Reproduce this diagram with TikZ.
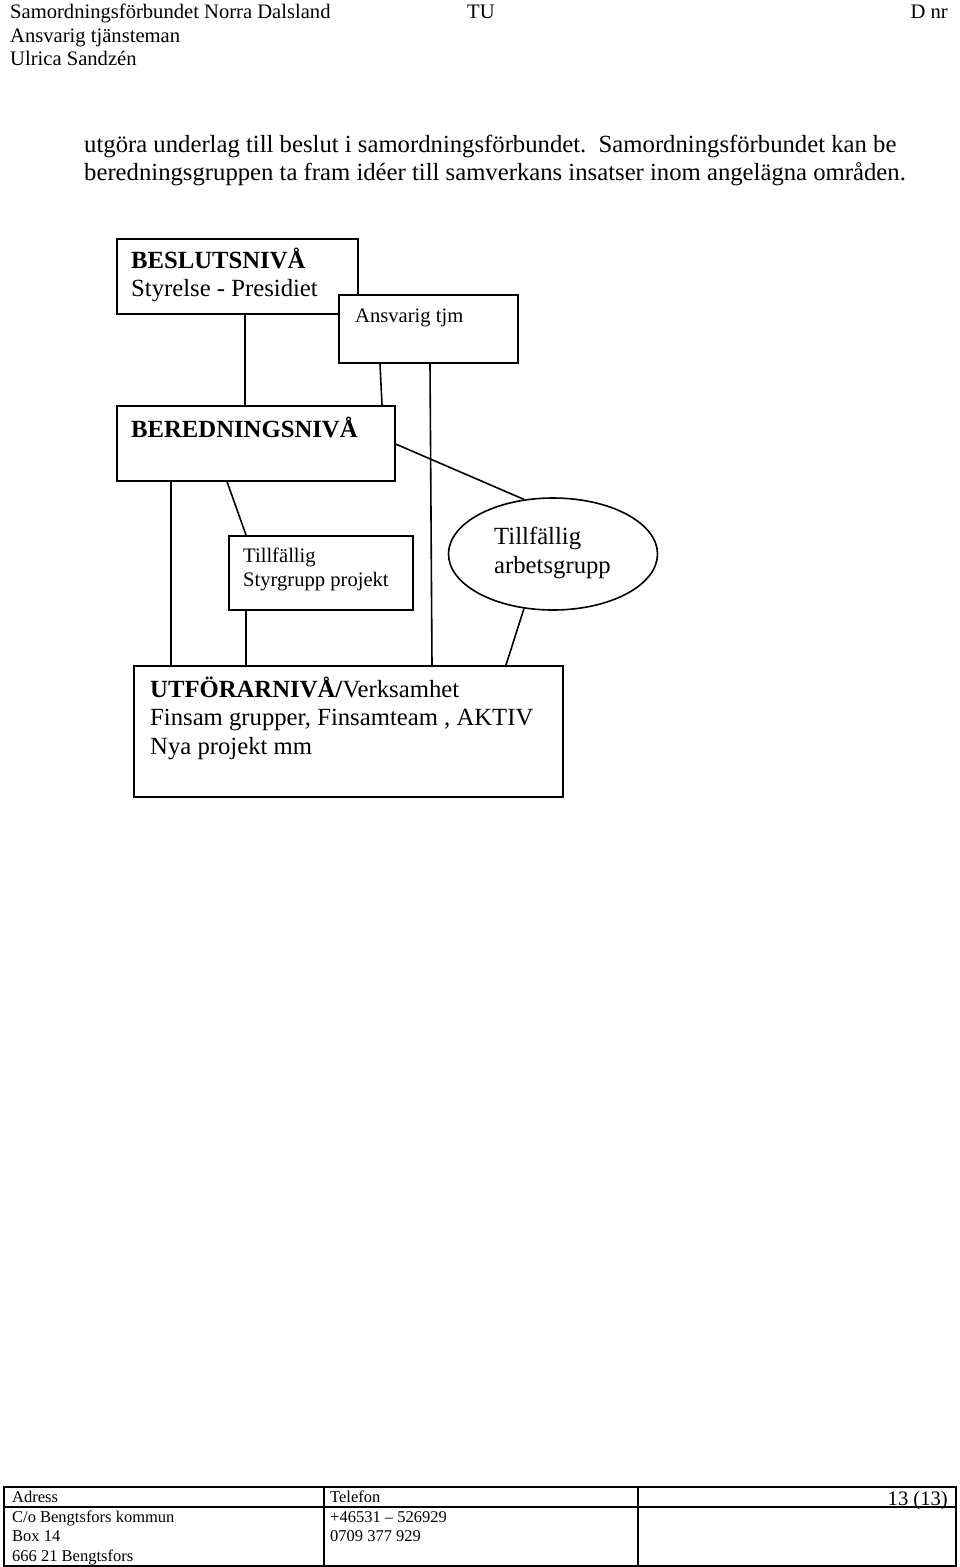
\documentclass[tikz,border=0pt]{standalone}
\usepackage{fontspec}
\setmainfont{Liberation Serif}
\usetikzlibrary{shapes.geometric}
\tikzset{
  box/.style={draw, line width=1.6pt, fill=white, inner sep=0pt, anchor=north west},
  conn/.style={line width=1.6pt},
  big/.style={anchor=base west, inner sep=0pt, font=\fontsize{24.7}{28.5}\selectfont},
  mid/.style={anchor=base west, inner sep=0pt, font=\fontsize{20.6}{23.7}\selectfont},
  small/.style={anchor=base west, inner sep=0pt, font=\fontsize{16.5}{19.5}\selectfont},
  tab/.style={line width=1.2pt},
}
\begin{document}
\begin{tikzpicture}[x=1pt,y=-1pt]
\useasboundingbox (0,0) rectangle (960,1567);
% header
\node[mid] (h1) at (10,18) {Samordningsförbundet Norra Dalsland};
\node[mid] (h2) at (10,42) {Ansvarig tjänsteman};
\node[mid] (h3) at (10,65) {Ulrica Sandzén};
\node[mid] (htu) at (467,18) {TU};
\node[mid, anchor=base east] (hdnr) at (948,18) {D nr};
% paragraph
\node[big] (p1) at (84,152) {utgöra underlag till beslut i samordningsförbundet.\ \ Samordningsförbundet kan be};
\node[big] (p2) at (84,180) {beredningsgruppen ta fram idéer till samverkans insatser inom angelägna områden.};
% boxes
\node[box, minimum width=241, minimum height=75] (beslut) at (116,238) {};
\node[big] (beslutA) at (131,268) {\textbf{BESLUTSNIVÅ}};
\node[big] (beslutB) at (131,296.5) {Styrelse - Presidiet};
\node[box, minimum width=179, minimum height=68] (ansv) at (338,294) {};
\node[mid] (ansvT) at (355,322) {Ansvarig tjm};
\node[box, minimum width=278, minimum height=75] (bered) at (116,405) {};
\node[big] (beredT) at (131,437) {\textbf{BEREDNINGSNIVÅ}};
\node[box, minimum width=184, minimum height=74] (styr) at (228,535) {};
\node[mid] (styrA) at (243,562) {Tillfällig};
\node[mid] (styrB) at (243,586) {Styrgrupp projekt};
\node[draw, line width=1.6pt, ellipse, minimum width=209, minimum height=112, inner sep=0pt] (arb) at (553,554) {};
\node[big] (arbA) at (494,544) {Tillfällig};
\node[big] (arbB) at (494,573) {arbetsgrupp};
\node[box, minimum width=429, minimum height=131] (utf) at (133,665) {};
\node[big] (utfA) at (150,697) {\textbf{UTFÖRARNIVÅ/}Verksamhet};
\node[big] (utfB) at (150,725.5) {Finsam grupper, Finsamteam , AKTIV};
\node[big] (utfC) at (150,754) {Nya projekt mm};
% connector x positions
\coordinate (x171) at (171,0);
\coordinate (x227) at (227,0);
\coordinate (x245) at (245,0);
\coordinate (x246) at (246,0);
\coordinate (x380) at (380,0);
\coordinate (x382) at (382,0);
\coordinate (x430) at (430,0);
\coordinate (x432) at (432,0);
\coordinate (x506) at (506,0);
\coordinate (y444) at (0,444);
% connectors
\draw[conn] (beslut.south -| x245) -- (bered.north -| x245);
\draw[conn] (ansv.south -| x380) -- (bered.north -| x382);
\draw[conn] (ansv.south -| x430) -- (utf.north -| x432);
\draw[conn] (bered.east |- y444) -- (arb.118);
\draw[conn] (bered.south -| x227) -- (styr.north -| x246);
\draw[conn] (bered.south -| x171) -- (utf.north -| x171);
\draw[conn] (styr.south -| x246) -- (utf.north -| x246);
\draw[conn] (arb.242) -- (utf.north -| x506);
% footer table
\draw[tab] (4,1487) rectangle (956,1566);
\draw[tab] (4,1507) -- (956,1507);
\draw[tab] (324,1487) -- (324,1566);
\draw[tab] (638,1487) -- (638,1566);
\node[small] (fa) at (12,1502) {Adress};
\node[small] (ft) at (330,1502) {Telefon};
\node[mid, anchor=base east] (fp) at (948,1505) {13 (13)};
\node[small] (fa1) at (12,1522) {C/o Bengtsfors kommun};
\node[small] (fa2) at (12,1541) {Box 14};
\node[small] (fa3) at (12,1561) {666 21 Bengtsfors};
\node[small] (ft1) at (330,1522) {+46531 – 526929};
\node[small] (ft2) at (330,1541) {0709 377 929};
\end{tikzpicture}
\end{document}
